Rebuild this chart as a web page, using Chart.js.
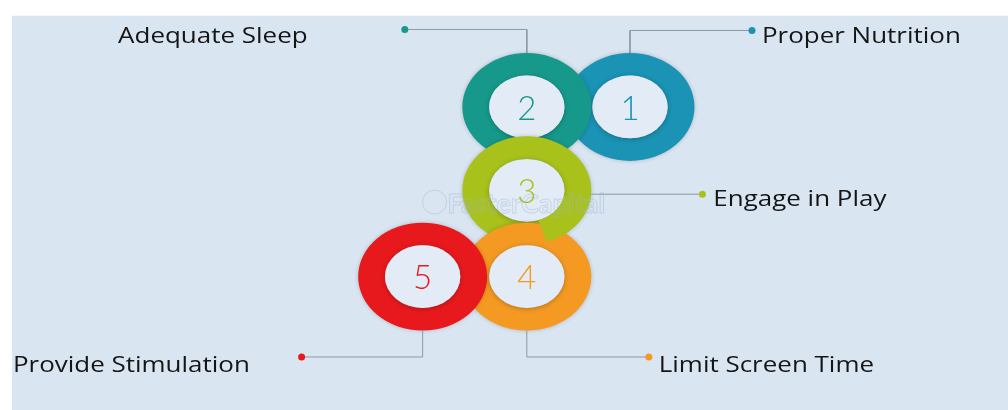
<!DOCTYPE html>
<html>
<head>
<meta charset="utf-8">
<title>Healthy Growth Steps</title>
<script src="https://cdn.jsdelivr.net/npm/chart.js@4.4.1/dist/chart.umd.min.js"></script>
<style>
  html, body { margin: 0; padding: 0; background: #ffffff; }
  #wrap { width: 1008px; height: 410px; }
</style>
</head>
<body>
<div id="wrap"><canvas id="stepsChart"></canvas></div>
<script>
// Steps shown in the graphic
const stepNumbers = ['1', '2', '3', '4', '5'];
const stepLabels = ['Proper Nutrition', 'Adequate Sleep', 'Engage in Play', 'Limit Screen Time', 'Provide Stimulation'];

// Layout, in axis units (the hidden axes span the whole canvas)
const ringX = [631, 527, 527, 527, 422];
const ringY = [105, 105, 190, 278, 278];
const dotX = [754, 404, 704, 650, 300];
const dotY = [27, 26, 194, 360, 360];
const labelX = [764, 115, 715, 660, 9];
const labelY = [40, 40, 206, 375, 375];
const leaderPaths = [
    [[754, 27], [631, 27], [631, 50]],
    [[404, 26], [527, 26], [527, 50]],
    [[704, 194], [591, 194]],
    [[650, 360], [527, 360], [527, 333]],
    [[300, 360], [422, 360], [422, 333]]
];

// Styles
const ringColors = ['#1a93b5', '#16998b', '#a8c21b', '#f49a22', '#e8191d'];
const RING = { rx: 65, ry: 55, irx: 38, iry: 32 };
const BG = '#d9e5f1';
const INNER = '#e3ecf6';
const LINE_COLOR = '#8e9aa7';
const LABEL_FONT = '22px "Open Sans", sans-serif';
const LABEL_STRETCH = 1.18;
const NUMBER_FONT = '300 33px Lato, "Open Sans", sans-serif';

// drawing order; an arc (degrees) is repainted on top so rings 3 and 4 interlock
const drawSteps = [
    { ring: 0 }, { ring: 1 }, { ring: 2 }, { ring: 3 },
    { ring: 2, arc: [10, 72] },
    { ring: 4 }
];

const ringsPlugin = {
    id: 'rings',
    beforeDraw(chart) {
        const { ctx, scales: { x, y } } = chart;
        ctx.save();
        ctx.fillStyle = '#ffffff';
        ctx.fillRect(0, 0, chart.width, chart.height);
        ctx.fillStyle = BG;
        ctx.fillRect(x.getPixelForValue(8), y.getPixelForValue(12), chart.width, chart.height);
        ctx.restore();
    },
    beforeDatasetsDraw(chart) {
        const { ctx, scales: { x, y } } = chart;
        const sx = Math.abs(x.getPixelForValue(1) - x.getPixelForValue(0));
        const sy = Math.abs(y.getPixelForValue(1) - y.getPixelForValue(0));
        const rad = d => d * Math.PI / 180;

        function band(i, a0, a1, shadow) {
            const cx = x.getPixelForValue(ringX[i]);
            const cy = y.getPixelForValue(ringY[i]);
            ctx.save();
            if (shadow) {
                ctx.shadowColor = 'rgba(0,0,0,0.2)';
                ctx.shadowBlur = 4;
            }
            ctx.beginPath();
            ctx.ellipse(cx, cy, RING.rx * sx, RING.ry * sy, 0, a0, a1);
            ctx.ellipse(cx, cy, RING.irx * sx, RING.iry * sy, 0, a1, a0, true);
            ctx.closePath();
            ctx.fillStyle = ringColors[i];
            ctx.fill();
            ctx.restore();
        }

        ctx.save();
        drawSteps.forEach(s => {
            const i = s.ring;
            if (s.arc) {
                band(i, rad(s.arc[0]), rad(s.arc[1]), false);
                return;
            }
            const cx = x.getPixelForValue(ringX[i]);
            const cy = y.getPixelForValue(ringY[i]);
            band(i, 0, Math.PI * 2, true);
            // inner face with a soft shadow
            ctx.save();
            ctx.shadowColor = 'rgba(0,0,0,0.25)';
            ctx.shadowBlur = 5;
            ctx.shadowOffsetY = 1;
            ctx.beginPath();
            ctx.ellipse(cx, cy, RING.irx * sx, RING.iry * sy, 0, 0, Math.PI * 2);
            ctx.fillStyle = INNER;
            ctx.fill();
            ctx.restore();
        });

        // step numbers
        ctx.font = NUMBER_FONT;
        ctx.textAlign = 'center';
        ctx.textBaseline = 'middle';
        stepNumbers.forEach((n, i) => {
            ctx.fillStyle = ringColors[i];
            ctx.fillText(n, x.getPixelForValue(ringX[i]), y.getPixelForValue(ringY[i]) + 2);
        });

        // faint watermark
        ctx.globalAlpha = 0.45;
        ctx.strokeStyle = '#9fb6d3';
        ctx.lineWidth = 1;
        ctx.font = 'bold 27px Lato, sans-serif';
        ctx.textAlign = 'left';
        ctx.textBaseline = 'alphabetic';
        ctx.strokeText('FasterCapital', x.getPixelForValue(447), y.getPixelForValue(213));
        ctx.beginPath();
        ctx.arc(x.getPixelForValue(434), y.getPixelForValue(202), 12, 0, Math.PI * 2);
        ctx.stroke();
        ctx.restore();
    },
    afterDatasetsDraw(chart) {
        const { ctx, scales: { x, y } } = chart;
        ctx.save();
        ctx.font = LABEL_FONT;
        ctx.fillStyle = '#151515';
        ctx.textAlign = 'left';
        ctx.textBaseline = 'alphabetic';
        stepLabels.forEach((t, i) => {
            ctx.save();
            ctx.translate(x.getPixelForValue(labelX[i]), y.getPixelForValue(labelY[i]));
            ctx.scale(LABEL_STRETCH, 1);
            ctx.fillText(t, 0, 0);
            ctx.restore();
        });
        ctx.restore();
    }
};

const leaderSets = leaderPaths.map(path => ({
    data: path.map(p => ({ x: p[0], y: p[1] })),
    showLine: true,
    borderColor: LINE_COLOR,
    borderWidth: 1,
    pointRadius: 0,
    order: 2
}));

new Chart(document.getElementById('stepsChart'), {
    type: 'scatter',
    data: {
        datasets: [
            {
                data: dotX.map((v, i) => ({ x: v, y: dotY[i] })),
                backgroundColor: ringColors,
                borderWidth: 0,
                pointRadius: 3.5,
                order: 1
            },
            ...leaderSets
        ]
    },
    options: {
        responsive: true,
        maintainAspectRatio: false,
        animation: false,
        layout: { padding: 0 },
        events: [],
        plugins: { legend: { display: false }, tooltip: { enabled: false } },
        scales: {
            x: { type: 'linear', min: 0, max: 1008, display: false },
            y: { type: 'linear', min: 0, max: 410, reverse: true, display: false }
        }
    },
    plugins: [ringsPlugin]
});
</script>
</body>
</html>
